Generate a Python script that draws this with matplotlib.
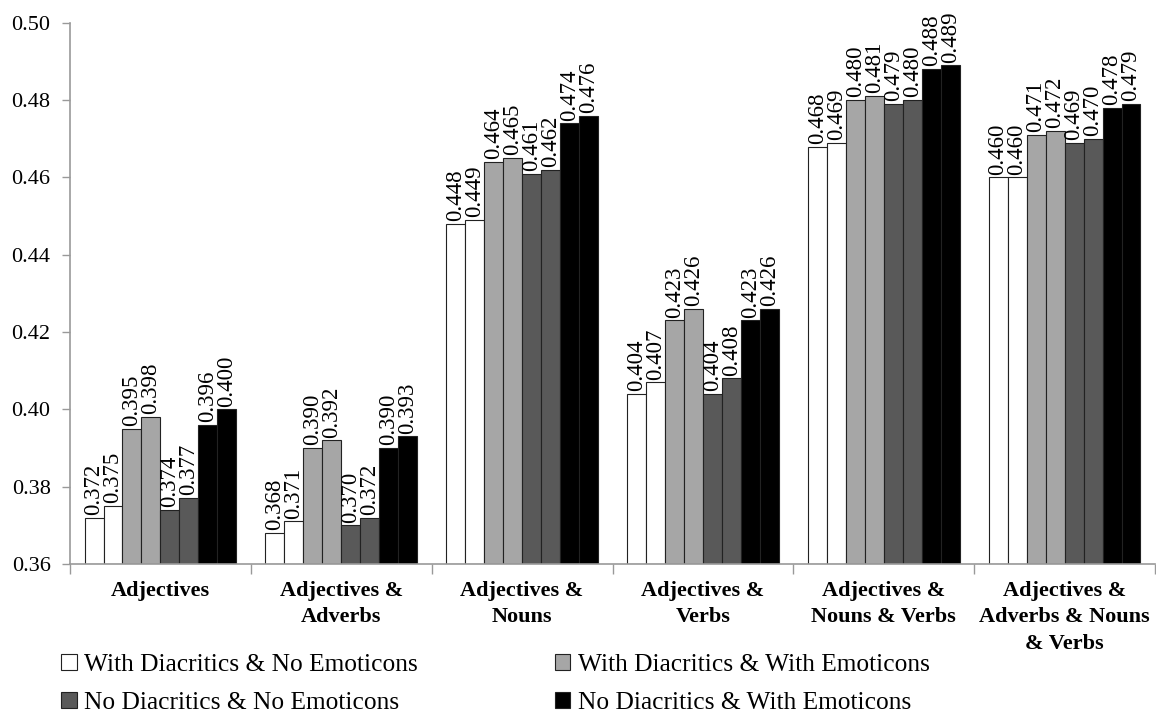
import matplotlib
matplotlib.use("Agg")
import matplotlib.pyplot as plt
from matplotlib.patches import Patch
import numpy as np

plt.rcParams["font.family"] = ["Liberation Serif", "DejaVu Serif"]

categories = [
	"Adjectives",
	"Adjectives &\nAdverbs",
	"Adjectives &\nNouns",
	"Adjectives &\nVerbs",
	"Adjectives &\nNouns & Verbs",
	"Adjectives &\nAdverbs & Nouns\n& Verbs",
]

# two bars per legend entry in every group
with_diac_no_emo_a = [0.372, 0.368, 0.448, 0.404, 0.468, 0.460]
with_diac_no_emo_b = [0.375, 0.371, 0.449, 0.407, 0.469, 0.460]
with_diac_with_emo_a = [0.395, 0.390, 0.464, 0.423, 0.480, 0.471]
with_diac_with_emo_b = [0.398, 0.392, 0.465, 0.426, 0.481, 0.472]
no_diac_no_emo_a = [0.374, 0.370, 0.461, 0.404, 0.479, 0.469]
no_diac_no_emo_b = [0.377, 0.372, 0.462, 0.408, 0.480, 0.470]
no_diac_with_emo_a = [0.396, 0.390, 0.474, 0.423, 0.488, 0.478]
no_diac_with_emo_b = [0.400, 0.393, 0.476, 0.426, 0.489, 0.479]

legend_labels = [
	"With Diacritics & No Emoticons",
	"With Diacritics & With Emoticons",
	"No Diacritics & No Emoticons",
	"No Diacritics & With Emoticons",
]
colors = ["#FFFFFF", "#A6A6A6", "#595959", "#000000"]

series = [
	(with_diac_no_emo_a, 0),
	(with_diac_no_emo_b, 0),
	(with_diac_with_emo_a, 1),
	(with_diac_with_emo_b, 1),
	(no_diac_no_emo_a, 2),
	(no_diac_no_emo_b, 2),
	(no_diac_with_emo_a, 3),
	(no_diac_with_emo_b, 3),
]

fig = plt.figure(figsize=(11.56, 7.13), dpi=100)
ax = fig.add_axes([0.0606, 0.209, 0.9385, 0.759])

x = np.arange(len(categories))
bar_w = 0.105
n = len(series)
for i, (vals, ci) in enumerate(series):
	pos = x + (i - (n - 1) / 2) * bar_w
	ax.bar(pos, np.array(vals) - 0.36, bottom=0.36, width=bar_w,
		color=colors[ci], edgecolor="#222222", linewidth=0.8)
	for px, v in zip(pos, vals):
		ax.annotate(f"{v:.3f}", (px, v), xytext=(0, 2), textcoords="offset points",
			rotation=90, ha="center", va="bottom", fontsize=16.5)

ax.set_ylim(0.36, 0.50)
ax.set_xlim(-0.5, len(categories) - 0.5)
ax.set_yticks(np.arange(0.36, 0.501, 0.02))
ax.set_yticklabels([f"{t:.2f}" for t in np.arange(0.36, 0.501, 0.02)])
ax.tick_params(axis="y", labelsize=16, length=6, width=1, color="#999999", pad=8)

ax.set_xticks(x)
ax.set_xticklabels(categories, fontweight="bold", fontsize=16, linespacing=1.45)
ax.tick_params(axis="x", length=0, pad=12)
ax.set_xticks(np.arange(-0.5, len(categories)), minor=True)
ax.tick_params(axis="x", which="minor", length=7, width=1, color="#999999")

for s in ["top", "right"]:
	ax.spines[s].set_visible(False)
for s in ["left", "bottom"]:
	ax.spines[s].set_color("#999999")
	ax.spines[s].set_linewidth(1.2)

handles = [Patch(facecolor=c, edgecolor="#222222", linewidth=0.8) for c in colors]
order = [0, 2, 1, 3]
fig.legend([handles[i] for i in order], [legend_labels[i] for i in order],
	loc="upper left", bbox_to_anchor=(0.053, 0.083), ncol=2, frameon=False,
	fontsize=18.3, handlelength=0.6, handleheight=0.6, handletextpad=0.3,
	columnspacing=5.4, labelspacing=0.62, borderaxespad=0, borderpad=0)

fig.savefig("out.png", dpi=100)
